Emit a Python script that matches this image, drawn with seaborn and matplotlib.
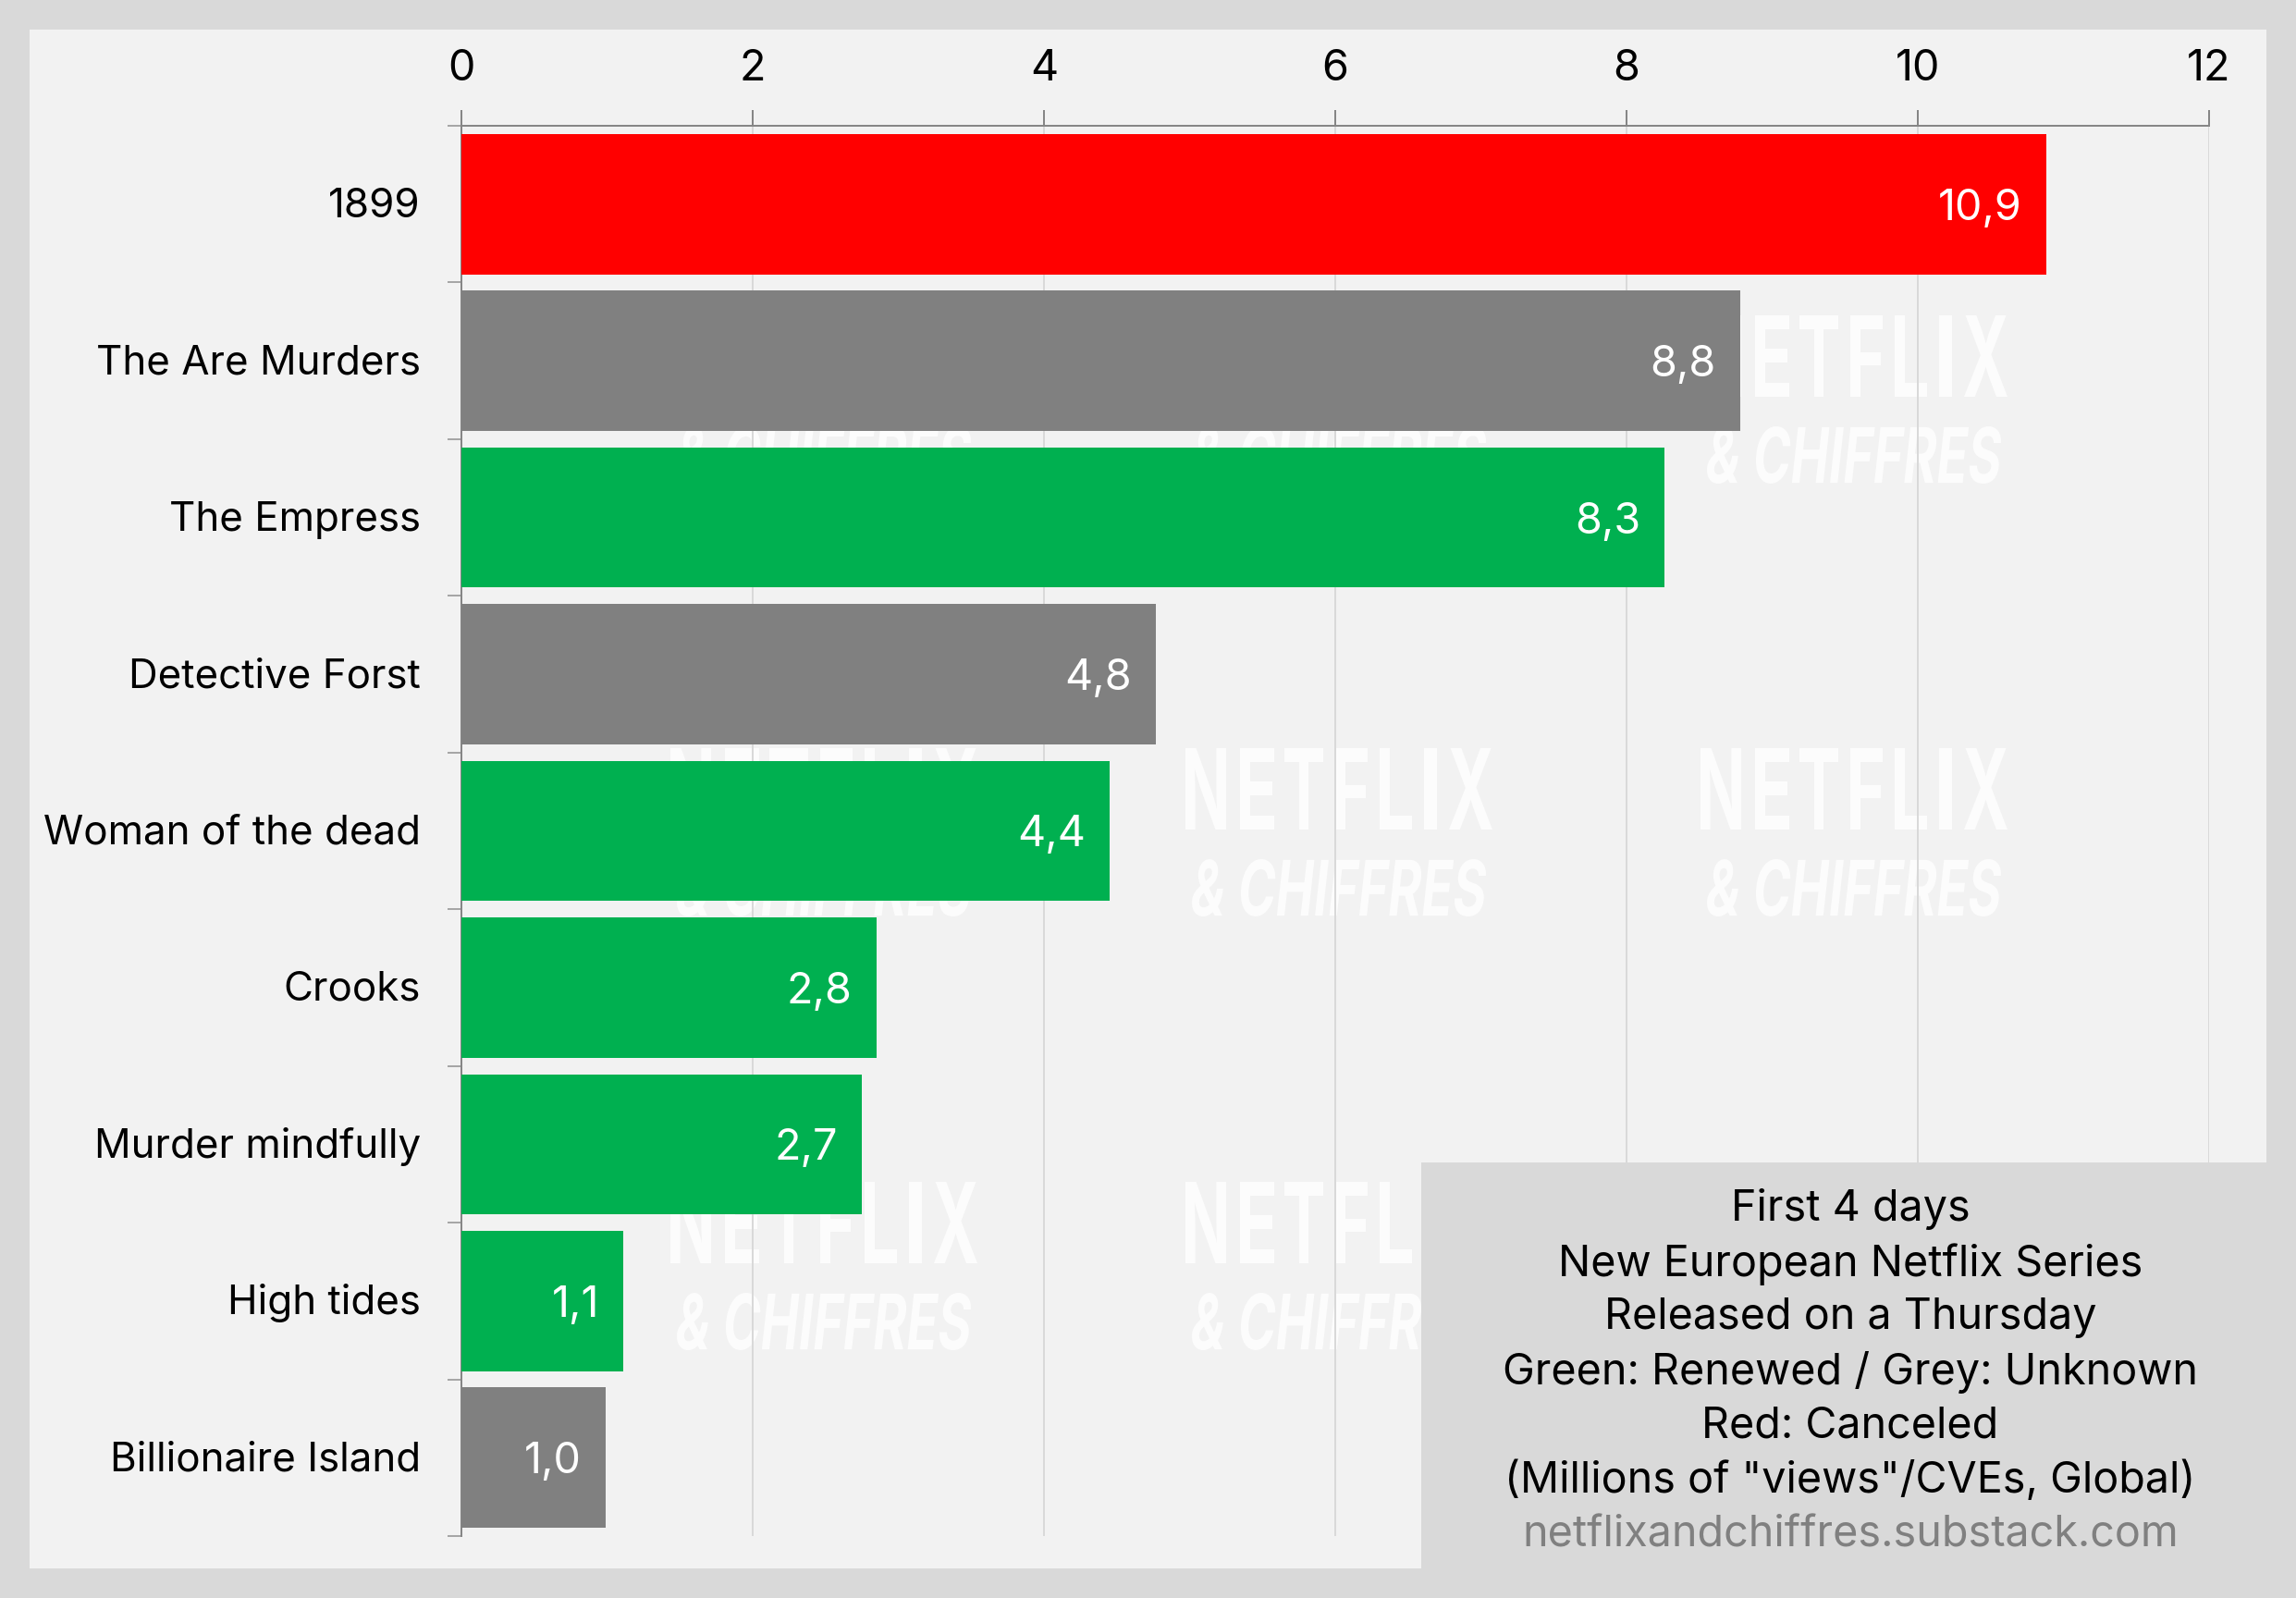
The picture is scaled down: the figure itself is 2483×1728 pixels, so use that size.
import matplotlib
matplotlib.use("Agg")
import matplotlib.pyplot as plt
import pandas as pd
import seaborn as sns
from matplotlib.font_manager import FontProperties
from matplotlib.patches import PathPatch, Rectangle
from matplotlib.textpath import TextPath
from matplotlib.transforms import Affine2D, ScaledTranslation

titles = ["1899", "The Are Murders", "The Empress", "Detective Forst", "Woman of the dead",
          "Crooks", "Murder mindfully", "High tides", "Billionaire Island"]
views = [10.88, 8.78, 8.26, 4.77, 4.45, 2.85, 2.75, 1.11, 0.99]
value_labels = ["10,9", "8,8", "8,3", "4,8", "4,4", "2,8", "2,7", "1,1", "1,0"]
status = ["Canceled", "Unknown", "Renewed", "Unknown", "Renewed", "Renewed", "Renewed", "Renewed", "Unknown"]
status_colors = {"Canceled": "#ff0000", "Unknown": "#808080", "Renewed": "#00b050"}
x_ticks = [0, 2, 4, 6, 8, 10, 12]
note_lines = ["First 4 days", "New European Netflix Series", "Released on a Thursday",
              "Green: Renewed / Grey: Unknown", "Red: Canceled", '(Millions of "views"/CVEs, Global)']
note_url = "netflixandchiffres.substack.com"

W, H = 2483, 1728
FONT = "Inter"
LABEL_SIZE = 31.6
BIG = 33.6


def px(n):
    return n * 72 / 100


sns.set_theme(style="white")
plt.rcParams["font.family"] = [FONT, "DejaVu Sans"]

df = pd.DataFrame({"title": titles, "views": views, "status": status})

fig = plt.figure(figsize=(W / 100, H / 100), dpi=100, facecolor="#d9d9d9")
ax = fig.add_axes([499 / W, 1 - 1661 / H, (2389 - 499) / W, (1661 - 136) / H])
ax.patch.set_alpha(0)

# light panel behind the chart
fig.add_artist(Rectangle((32, H - 1696), 2451 - 32, 1696 - 32, transform=None,
                         facecolor="#f2f2f2", edgecolor="none", zorder=-3))


# watermark, squeezed into a box because there is no condensed font here
def stamp(text, x0, x1, y0, y1, style="normal"):
    fp = FontProperties(family=FONT, weight="bold", style=style)
    path = TextPath((0, 0), text, size=100, prop=fp)
    box = path.get_extents()
    tr = (Affine2D().translate(-box.x0, -box.y0)
          .scale((x1 - x0) / box.width, (y1 - y0) / box.height)
          .translate(x0, H - y1))
    fig.add_artist(PathPatch(path, transform=tr, facecolor="#fcfcfc", edgecolor="none", zorder=-2))


# letter by letter so NETFLIX keeps its wide spacing
netflix_cells = [("N", 0, 44), ("E", 59, 96), ("T", 107, 149), ("F", 162, 197),
                 ("L", 210, 245), ("I", 258, 272), ("X", 285, 332)]
for cx in [891, 1448, 2005]:
    for cy in [385, 853, 1322]:
        for letter, a, b in netflix_cells:
            stamp(letter, cx - 166 + a, cx - 166 + b, cy - 44, cy + 44)
        stamp("& CHIFFRES", cx - 159, cx + 159, cy + 76, cy + 138, style="italic")

sns.barplot(data=df, y="title", x="views", hue="status", palette=status_colors, dodge=False,
            width=0.895, saturation=1, legend=False, ax=ax, zorder=3, linewidth=0)

ax.set_xlim(0, 12)
ax.set_ylim(8.5, -0.5)
ax.set_xlabel("")
ax.set_ylabel("")
ax.set_xticks(x_ticks)
ax.xaxis.tick_top()
ax.grid(axis="x", color="#d9d9d9", linewidth=px(2), zorder=1)
ax.set_axisbelow(True)

ax.set_yticks(range(len(titles)))
ax.set_yticklabels(titles)
ax.set_yticks([i - 0.5 for i in range(len(titles) + 1)], minor=True)
ax.tick_params(axis="y", which="major", length=0, pad=px(44), labelsize=LABEL_SIZE, labelcolor="black")
ax.tick_params(axis="y", which="minor", length=px(15), width=px(2), color="#a6a6a6", left=True)
ax.tick_params(axis="x", which="major", length=px(17), width=px(2), color="#868686", pad=px(22),
               labelsize=BIG, labelcolor="black", top=True)
for label in ax.get_yticklabels():
    label.set_transform(label.get_transform() + ScaledTranslation(0, 2 / 100, fig.dpi_scale_trans))

for side in ["right", "bottom"]:
    ax.spines[side].set_visible(False)
for side in ["left", "top"]:
    ax.spines[side].set_color("#868686")
    ax.spines[side].set_linewidth(px(2))

for i, (v, lab) in enumerate(zip(views, value_labels)):
    ax.annotate(lab, (v, i), xytext=(-26, -5), textcoords="offset pixels", ha="right", va="center",
                color="white", fontsize=BIG, zorder=4)

# note box in the bottom right corner
fig.add_artist(Rectangle((1537, 0), W - 1537, H - 1257, transform=None,
                         facecolor="#d9d9d9", edgecolor="none", zorder=5))
for n, line in enumerate(note_lines + [note_url]):
    fig.text(2001 / W, 1 - (1308 + n * 58.7) / H, line, ha="center", va="center", fontsize=BIG,
             color="#808080" if line == note_url else "black", zorder=6)

fig.savefig("out.png", dpi=100, facecolor=fig.get_facecolor())
